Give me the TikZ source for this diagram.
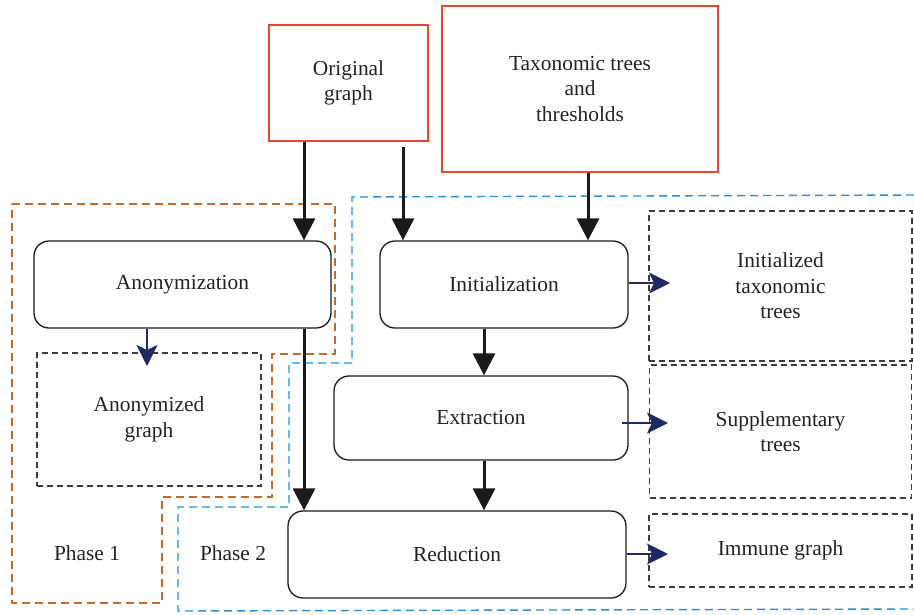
\documentclass[tikz,border=0pt]{standalone}
\usepackage{fontspec}
\setmainfont{Liberation Serif}
\usetikzlibrary{arrows.meta}
\definecolor{navyc}{HTML}{1E2A63}
\definecolor{orangec}{HTML}{C46A2E}
\definecolor{bluec}{HTML}{2A8FD4}
\definecolor{redc}{HTML}{E8462F}
\definecolor{blkc}{HTML}{1A1A1A}
\definecolor{txtc}{HTML}{222222}
\tikzset{
  every node/.style={font=\fontsize{21.4}{25.5}\selectfont, text=txtc, align=center, inner sep=0pt},
  srcbox/.style={draw=redc, line width=1.3pt, rectangle},
  procbox/.style={draw=blkc, line width=1.3pt, rectangle, rounded corners=15pt, fill=white},
  outbox/.style={draw=blkc!85, line width=1.2pt, dash pattern=on 6pt off 4pt, rectangle},
  blkarrow/.style={draw=blkc, line width=3pt, -{Triangle[length=22pt,width=22pt]}},
  navyarrow/.style={draw=navyc, line width=2.5pt, -{Stealth[length=21pt,width=21pt,inset=5pt]}},
  phase1/.style={draw=orangec, line width=1.4pt, dash pattern=on 8pt off 5pt},
  phase2/.style={draw=bluec, line width=1.4pt, dash pattern=on 8pt off 5pt},
}
\begin{document}
\begin{tikzpicture}[x=1pt,y=-1pt]
\useasboundingbox (0,0) rectangle (914,614);

% phase outlines
\draw[phase1] (12,204) -- (335,204) -- (335,354) -- (272,354) -- (272,497) -- (162,497) -- (162,603) -- (12,603) -- cycle;
\draw[phase2] (914,195) -- (352,197) -- (352,363) -- (289,363) -- (289,507) -- (178,507) -- (178,611) -- (914,609);

% source boxes
\node[srcbox, minimum width=159pt, minimum height=116pt] (orig) at (348.5,83) {Original\\graph};
\node[srcbox, minimum width=276pt, minimum height=166pt] (tax) at (580,89) {Taxonomic trees\\and\\thresholds};

% process boxes
\node[procbox, minimum width=297pt, minimum height=87pt] (anon) at (182.5,284.5) {Anonymization};
\node[procbox, minimum width=248pt, minimum height=87pt] (init) at (504,284.5) {Initialization};
\node[procbox, minimum width=294pt, minimum height=84pt] (extr) at (481,418) {Extraction};
\node[procbox, minimum width=338pt, minimum height=87pt] (redu) at (457,554.5) {Reduction};

% output boxes
\node[outbox, minimum width=224pt, minimum height=133pt] (anond) at (149,419.5) {Anonymized\\graph};
\node[outbox, minimum width=263pt, minimum height=150pt] (initd) at (780.5,286) {Initialized\\taxonomic\\trees};
\node[outbox, minimum width=262pt, minimum height=133pt] (supd) at (780.5,431.5) {Supplementary\\trees};
\node[outbox, minimum width=263pt, minimum height=73pt] (immd) at (780.5,550.5) {Immune graph};

% phase labels
\node (p1) at (87,553) {Phase 1};
\node (p2) at (233,553) {Phase 2};

% helper coordinates
\coordinate (xa) at (304,0);
\coordinate (xb) at (403,0);
\coordinate (xc) at (588,0);
\coordinate (xd) at (484,0);
\coordinate (xe) at (147,0);
\coordinate (freeb) at (403,147);
\coordinate (anonend) at (147,366);
\coordinate (t1) at (670,283);
\coordinate (t2) at (668,423);
\coordinate (t3) at (668,554);
\coordinate (s2) at (622,423);

% black arrows
\draw[blkarrow] (orig.south -| xa) -- (anon.north -| xa);
\draw[blkarrow] (freeb) -- (init.north -| xb);
\draw[blkarrow] (tax.south -| xc) -- (init.north -| xc);
\draw[blkarrow] (init.south -| xd) -- (extr.north -| xd);
\draw[blkarrow] (extr.south -| xd) -- (redu.north -| xd);
\draw[blkarrow] (anon.south -| xa) -- (redu.north -| xa);

% navy arrows
\draw[navyarrow] (anon.south -| xe) -- (anonend);
\draw[navyarrow] (init.east |- t1) -- (t1);
\draw[navyarrow] (s2) -- (t2);
\draw[navyarrow] (redu.east |- t3) -- (t3);
\end{tikzpicture}
\end{document}
